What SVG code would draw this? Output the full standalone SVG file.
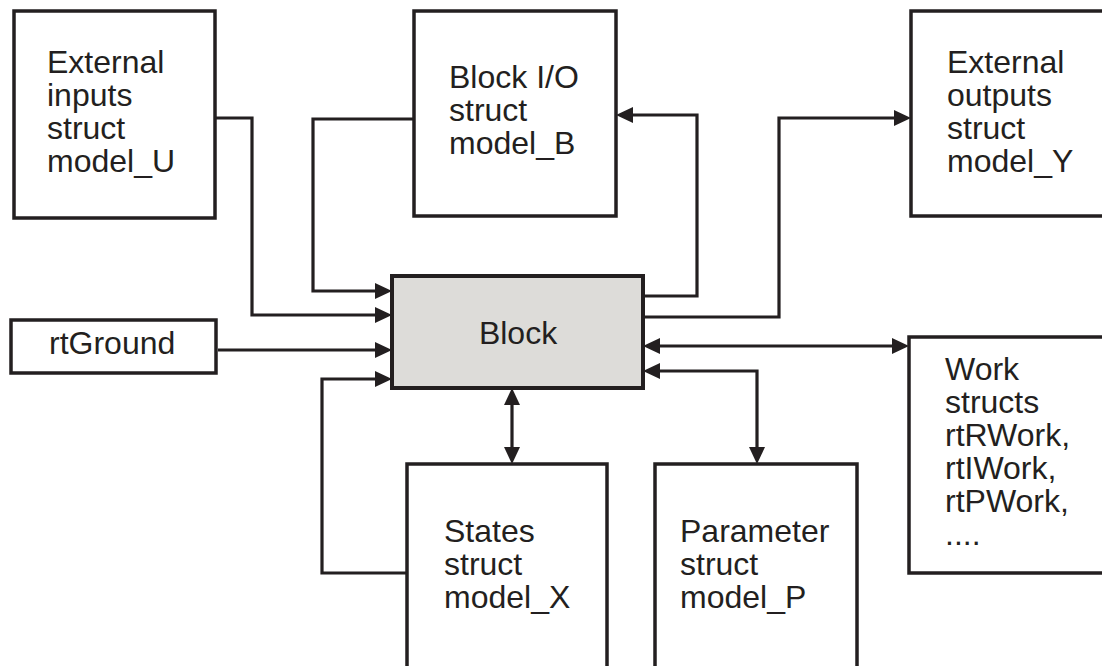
<svg xmlns="http://www.w3.org/2000/svg" width="1102" height="666" viewBox="0 0 1102 666">
<style>
.box{fill:#ffffff;stroke:#231f20;stroke-width:3.5}
.blk{fill:#dddcd9;stroke:#231f20;stroke-width:4}
.lbl{font-family:"Liberation Sans",Arial,sans-serif;font-size:32px;fill:#231f20}
.con{fill:none;stroke:#231f20;stroke-width:3.2}
</style>
<defs>
<marker id="ah" viewBox="0 0 17 16" refX="11" refY="8" markerWidth="17" markerHeight="16" markerUnits="userSpaceOnUse" orient="auto-start-reverse">
<path d="M0,0 L17,8 L0,16 z" fill="#231f20"/>
</marker>
</defs>
<rect width="1102" height="666" fill="#ffffff"/>
<g id="connectors">
<path class="con" d="M215,118 H252 V315 H386" marker-end="url(#ah)"/>
<path class="con" d="M414,119 H313 V291 H386" marker-end="url(#ah)"/>
<path class="con" d="M218,350 H386" marker-end="url(#ah)"/>
<path class="con" d="M407,573 H322 V379 H386" marker-end="url(#ah)"/>
<path class="con" d="M643,296 H697 V115 H622" marker-end="url(#ah)"/>
<path class="con" d="M643,317 H779 V118 H905" marker-end="url(#ah)"/>
<path class="con" d="M649,346 H903" marker-start="url(#ah)" marker-end="url(#ah)"/>
<path class="con" d="M649,371 H757 V458" marker-start="url(#ah)" marker-end="url(#ah)"/>
<path class="con" d="M512,394 V458" marker-start="url(#ah)" marker-end="url(#ah)"/>
</g>
<g id="ext-inputs">
<rect class="box" x="14" y="11" width="201" height="207"/>
<text class="lbl" x="47" y="73">External<tspan x="47" dy="33">inputs</tspan><tspan x="47" dy="33">struct</tspan><tspan x="47" dy="33">model_U</tspan></text>
</g>
<g id="block-io">
<rect class="box" x="414" y="11" width="202" height="205"/>
<text class="lbl" x="449" y="88">Block I/O<tspan x="449" dy="33">struct</tspan><tspan x="449" dy="33">model_B</tspan></text>
</g>
<g id="ext-outputs">
<rect class="box" x="911" y="11" width="200" height="205"/>
<text class="lbl" x="947" y="73">External<tspan x="947" dy="33">outputs</tspan><tspan x="947" dy="33">struct</tspan><tspan x="947" dy="33">model_Y</tspan></text>
</g>
<g id="rtground">
<rect class="box" x="11" y="320" width="205" height="53"/>
<text class="lbl" x="49" y="354">rtGround</text>
</g>
<g id="block">
<rect class="blk" x="392" y="276" width="251" height="112"/>
<text class="lbl" x="518" y="344" text-anchor="middle">Block</text>
</g>
<g id="work">
<rect class="box" x="909" y="337" width="200" height="236"/>
<text class="lbl" x="945" y="380">Work<tspan x="945" dy="33">structs</tspan><tspan x="945" dy="33">rtRWork,</tspan><tspan x="945" dy="33">rtIWork,</tspan><tspan x="945" dy="33">rtPWork,</tspan><tspan x="945" dy="33">....</tspan></text>
</g>
<g id="states">
<rect class="box" x="407" y="464" width="200" height="215"/>
<text class="lbl" x="444" y="542">States<tspan x="444" dy="33">struct</tspan><tspan x="444" dy="33">model_X</tspan></text>
</g>
<g id="parameter">
<rect class="box" x="655" y="464" width="202" height="215"/>
<text class="lbl" x="680" y="542">Parameter<tspan x="680" dy="33">struct</tspan><tspan x="680" dy="33">model_P</tspan></text>
</g>
</svg>
